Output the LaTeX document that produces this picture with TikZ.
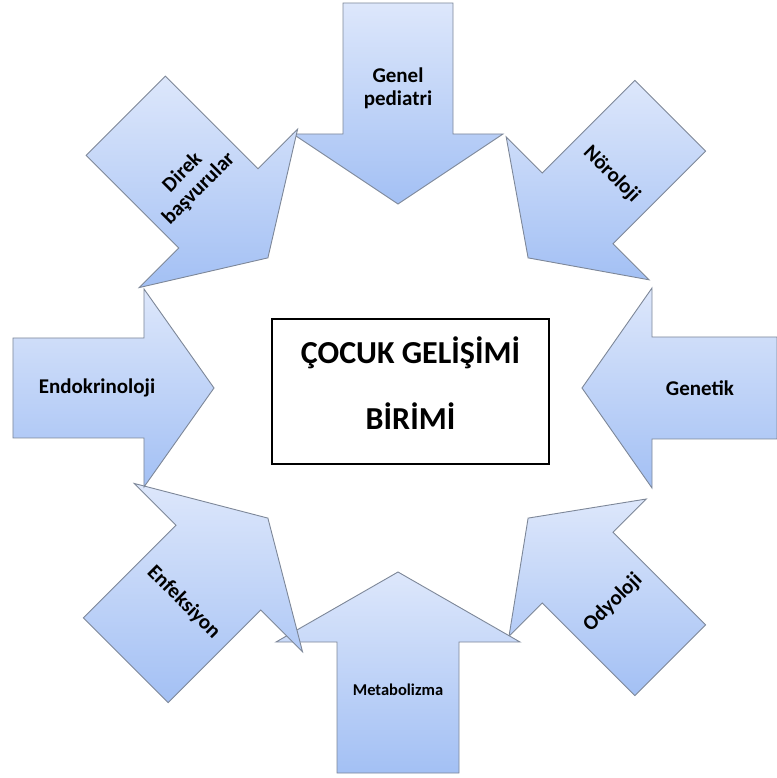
\documentclass[tikz,border=0pt]{standalone}
\usepackage{fontspec}
\setmainfont{Carlito}
\usetikzlibrary{positioning}
\definecolor{arrowtop}{HTML}{DDE7FB}
\definecolor{arrowbot}{HTML}{A3C0F4}
\definecolor{arrowline}{HTML}{7D8798}

\tikzset{
  feeder/.style={top color=arrowtop, bottom color=arrowbot, draw=arrowline, line width=0.9pt, line join=miter},
  feedlabel/.style={font=\bfseries\fontsize{21}{23}\selectfont, align=center, text=black}
}

\begin{document}
\begin{tikzpicture}[x=1pt, y=1pt]
  \useasboundingbox (-398,-390) rectangle (378,388);

  % arrows: angle / shaft half width / head half width / outer end
  \foreach \ang/\s/\h/\r in {90/55/105/385, 45/50/101/385, 0/51/100/379, -45/50/97/385,
                             -90/61/122/385, -135/60/119/385, 180/50/99/385, 135/56/112/385} {
    \begin{scope}[rotate=\ang]
      \draw[feeder] (\r,\s) -- (254,\s) -- (254,\h) -- (184,0) -- (254,-\h) -- (254,-\s) -- (\r,-\s) -- cycle;
    \end{scope}
  }

  % labels
  \node[feedlabel] (pediatri) at (90:300) {Genel\\pediatri};
  \node[feedlabel, rotate=-45] (noroloji) at (45:302) {Nöroloji};
  \node[feedlabel] (genetik) at (0:302) {Genetik};
  \node[feedlabel, rotate=45] (odyoloji) at (-45:304) {Odyoloji};
  \node[feedlabel, font=\bfseries\fontsize{16.5}{20}\selectfont] (metabolizma) at (-90:302) {Metabolizma};
  \node[feedlabel, rotate=-45] (enfeksiyon) at (-135:303) {Enfeksiyon};
  \node[feedlabel] (endokrin) at (180:301) {Endokrinoloji};
  \node[feedlabel, rotate=45] (direk) at (135:293) {Direk\\başvurular};

  % centre
  \node[draw, line width=1.5pt, minimum width=277pt, minimum height=145pt, align=center, text depth=16pt,
        font=\bfseries\fontsize{32}{66}\selectfont] (birim) at (12.5,-3.5) {ÇOCUK GELİŞİMİ\\BİRİMİ};
\end{tikzpicture}
\end{document}
